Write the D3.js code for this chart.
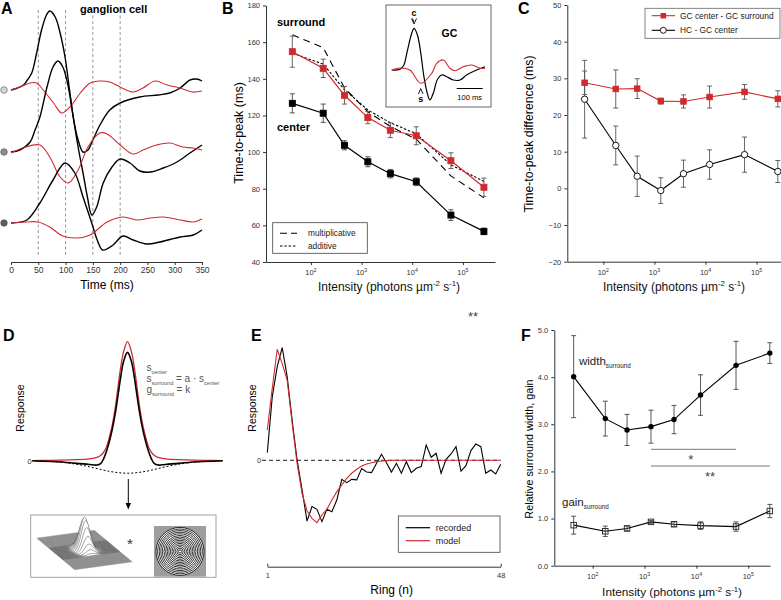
<!DOCTYPE html>
<html><head><meta charset="utf-8">
<script src="https://cdn.jsdelivr.net/npm/d3@7"></script>
<style>body{margin:0;background:#fff} svg{display:block} text{font-family:"Liberation Sans",Arial,sans-serif}</style>
</head><body><svg id="chart" width="781" height="600"></svg>
<script>
// ---------------- DATA ----------------
// Panel A: ganglion cell traces (time ms, response a.u.)
const timeTicksA = [0,50,100,150,200,250,300,350];
const dashedTimesA = [50,100,150,200];
const a1Black = [[0,0],[12,2],[23,5],[30,10],[38,17],[47,37],[56,60],[65,75],[71,79],[81,73],[90,57],[99,33],[108,-3],[115,-30],[122,-48],[132,-62],[141,-60],[150,-50],[163,-35],[181,-20],[200,-13],[236,-7],[270,-5],[291,-3],[310,2],[328,10],[340,11],[350,9]];
const a1Red = [[0,0],[17,3],[35,7],[47,7],[59,0],[78,-13],[93,-23],[108,-17],[127,-3],[145,7],[163,9],[181,8],[200,3],[224,-2],[242,2],[264,9],[286,5],[310,2],[332,-2],[350,-1]];
const a2Black = [[0,0],[16,2],[35,10],[44,22],[53,35],[66,65],[77,85],[86,91],[95,85],[105,65],[114,35],[123,5],[132,-21],[140,-45],[148,-63],[157,-55],[169,-31],[185,-15],[200,-7],[218,-11],[236,-19],[255,-20],[279,-16],[304,-10],[328,-1],[350,7]];
const a2Red = [[0,-1],[22,4],[53,7],[71,-5],[90,-25],[105,-31],[123,-18],[141,5],[163,19],[176,18],[200,7],[224,-2],[242,2],[267,7],[291,9],[315,5],[334,4],[350,2]];
const a3Black = [[0,0],[29,3],[53,20],[77,43],[99,60],[117,50],[132,26],[148,0],[158,-17],[168,-27],[187,-22],[205,-13],[224,-17],[249,-21],[273,-19],[310,-14],[334,-12],[350,-7]];
const a3Red = [[0,0],[29,1],[50,1],[71,-4],[95,-13],[121,-15],[145,-12],[176,1],[205,6],[231,3],[255,5],[279,6],[310,3],[334,1],[350,4]];

// Panels B, C, F: intensities (photons um^-2 s^-1)
const intensity = [43, 175, 460, 1330, 3700, 12000, 58000, 260000];
const logTicks = [1e2, 1e3, 1e4, 1e5];
const bYTicks = [40,60,80,100,120,140,160,180];
const bCenter = [126.6, 121.2, 103.7, 94.7, 88.2, 83.8, 65.6, 56.7];
const bCenterErr = [5.2, 5.0, 2.5, 2.7, 2.3, 2.1, 2.9, 1.8];
const bSurround = [154.8, 145.7, 131.0, 118.8, 111.9, 108.9, 95.3, 80.8];
const bSurroundErr = [8.5, 5.0, 4.8, 3.3, 4.0, 4.9, 4.3, 5.0];
const bMultiplicative = [164, 157, 135, 122, 114, 107, 87, 75];
const bAdditive = [154, 148, 134, 123, 116, 110, 93, 84];
// B inset (time ms, a.u.)
const insetBlack = [[0,0],[32,0.7],[47,5],[58,16.7],[77,36.7],[86,41.7],[99,35],[112,16.7],[124,-6.7],[137,-23.3],[147,-30],[160,-23.3],[175,-10],[192,-5],[212,-6.7],[237,-10],[263,-10],[288,-5],[320,-0.7],[359,3.3]];
const insetRed = [[0,0],[32,2],[70,0],[112,-13.3],[154,-3.3],[173,6.7],[199,10],[224,1.7],[243,-0.7],[275,3.3],[308,5],[340,1.7],[359,1.7]];

const cYTicks = [-20,-10,0,10,20,30,40,50];
const cCenterSurround = [28.8, 27.1, 27.2, 23.8, 23.7, 24.9, 26.3, 24.4];
const cCenterSurroundErr = [3.2, 5.2, 2.7, 0.8, 1.8, 3.0, 2.0, 2.2];
const cHcCenter = [24.3, 11.7, 3.3, -0.6, 4.0, 6.5, 9.2, 4.6];
const cHcCenterErr = [10.6, 5.3, 5.5, 3.5, 3.7, 4.0, 4.8, 3.0];

// Panel D: half profiles (offset from centre, response)
const dBlackHalf = [[0,1.0],[2,0.92],[3.5,0.78],[5,0.6],[6.5,0.43],[8,0.29],[9.5,0.18],[11,0.09],[12.5,0.02],[14,-0.025],[16,-0.04],[20,-0.035],[25,-0.027],[30,-0.019],[40,-0.008],[50,0]];
const dRedHalf = [[0,1.10],[2,1.01],[3.5,0.87],[5,0.68],[6.5,0.48],[8,0.33],[9.5,0.22],[11,0.13],[12.5,0.08],[14,0.05],[16,0.03],[20,0.016],[30,0.008],[40,0.003],[50,0]];
const dSurroundHalf = [[0,-0.116],[5,-0.11],[10,-0.097],[15,-0.077],[20,-0.056],[25,-0.038],[30,-0.024],[35,-0.014],[40,-0.007],[45,-0.003],[50,0]];

// Panel E: ring responses (ring 1..48)
const eRecorded = [0.068,0.565,0.831,1.0,0.743,0.358,0.003,-0.263,-0.539,-0.411,-0.435,-0.544,-0.435,-0.456,-0.352,-0.169,-0.198,-0.169,-0.174,-0.074,-0.104,-0.109,-0.027,0.053,-0.021,-0.104,-0.027,-0.115,-0.012,-0.109,-0.071,-0.056,0.136,0.027,0.062,-0.115,0.009,0.056,0.121,-0.095,-0.047,0.086,0.145,0.121,-0.115,-0.086,-0.121,-0.036];
const eModel = [0.269,0.639,0.985,0.858,0.712,0.331,-0.027,-0.293,-0.447,-0.515,-0.553,-0.485,-0.435,-0.352,-0.278,-0.219,-0.16,-0.115,-0.08,-0.05,-0.033,-0.021,-0.012,-0.006,-0.003,-0.001,0,0,0,0,0,0,0,0,0,0,0,0,0,0,0,0,0,0,0,0,0,0];
const eRingTicks = [1,48];

const fYTicks = [0,1,2,3,4,5];
const fWidth = [4.01, 3.12, 2.88, 2.95, 3.10, 3.62, 4.25, 4.51];
const fWidthErr = [0.87, 0.37, 0.33, 0.35, 0.30, 0.43, 0.51, 0.22];
const fGain = [0.86, 0.73, 0.79, 0.93, 0.88, 0.85, 0.83, 1.16];
const fGainErr = [0.19, 0.11, 0.05, 0.03, 0.05, 0.08, 0.10, 0.14];

// ---------------- HELPERS ----------------
const RED = "#d02a2e", AX = "#333", TK = "#333";
const svg = d3.select("#chart");
svg.append("rect").attr("width",781).attr("height",600).attr("fill","#fff");

function rich(parent, x, y, parts, fs, o = {}) {
  const t = parent.append("text").attr("x", x).attr("y", y).attr("font-size", fs);
  if (o.anchor) t.attr("text-anchor", o.anchor);
  t.attr("fill", o.fill || "#111");
  if (o.weight) t.attr("font-weight", o.weight);
  if (o.transform) t.attr("transform", o.transform);
  let off = 0;
  parts.forEach(p => {
    if (typeof p === "string") p = {t: p};
    const target = p.sup ? -fs * 0.38 : p.sub ? fs * 0.3 : 0;
    const ts = t.append("tspan").text(p.t).attr("dy", target - off);
    if (p.sup || p.sub) ts.attr("font-size", fs * (p.scale || 0.62));
    off = target;
  });
  return t;
}
function letter(x, y, s) {
  svg.append("text").attr("x", x).attr("y", y).attr("font-size", 16).attr("font-weight", "bold").attr("fill", "#000").text(s);
}
function styleAxis(g) {
  g.selectAll("path.domain").attr("stroke", AX).attr("stroke-width", 1);
  g.selectAll(".tick line").attr("stroke", AX);
  g.selectAll(".tick text").attr("fill", TK).attr("font-family", '"Liberation Sans",Arial,sans-serif');
}
function logAxis(scale, y, fs) {
  const g = svg.append("g").attr("transform", `translate(0,${y})`)
    .call(d3.axisBottom(scale).tickValues(logTicks).tickSize(3).tickSizeOuter(0).tickFormat(""));
  styleAxis(g);
  logTicks.forEach(v => {
    rich(svg, scale(v), y + 13, ["10", {t: String(Math.round(Math.log10(v))), sup: true, scale: 0.7}], fs, {anchor: "middle", fill: TK});
  });
}
function intensityLabel(cx, y, fs) {
  rich(svg, cx, y, ["Intensity (photons µm", {t: "-2", sup: true, scale: 0.65}, " s", {t: "-1", sup: true, scale: 0.65}, ")"], fs, {anchor: "middle"});
}
function errBars(xs, ys, vals, errs, color) {
  vals.forEach((v, i) => {
    const x = xs(intensity[i]);
    const g = svg.append("g").attr("stroke", color).attr("stroke-width", 0.9);
    g.append("line").attr("x1", x).attr("x2", x).attr("y1", ys(v - errs[i])).attr("y2", ys(v + errs[i]));
    [v - errs[i], v + errs[i]].forEach(e => g.append("line").attr("x1", x - 2.5).attr("x2", x + 2.5).attr("y1", ys(e)).attr("y2", ys(e)));
  });
}
function seriesLine(xs, ys, vals, color, w, dash) {
  const p = svg.append("path").datum(vals)
    .attr("d", d3.line().x((d, i) => xs(intensity[i])).y(d => ys(d)))
    .attr("fill", "none").attr("stroke", color).attr("stroke-width", w);
  if (dash) p.attr("stroke-dasharray", dash);
}
function squares(xs, ys, vals, color, size, fill) {
  vals.forEach((v, i) => svg.append("rect").attr("x", xs(intensity[i]) - size / 2).attr("y", ys(v) - size / 2)
    .attr("width", size).attr("height", size).attr("fill", fill).attr("stroke", color).attr("stroke-width", 0.9));
}
const smooth = d3.curveCatmullRom.alpha(0.5);

// ---------------- PANEL A ----------------
letter(1, 14, "A");
svg.append("text").attr("x", 80).attr("y", 13).attr("font-size", 11).attr("font-weight", "bold").text("ganglion cell");
const xA = d3.scaleLinear().domain([0, 350]).range([11, 202]);
dashedTimesA.forEach(t => svg.append("line").attr("x1", xA(t)).attr("x2", xA(t)).attr("y1", 10).attr("y2", 257)
  .attr("stroke", "#8a8a8a").attr("stroke-width", 0.9).attr("stroke-dasharray", "3,2.5"));
const aBases = [90, 152, 223];
const aTraces = [[a1Black, a1Red], [a2Black, a2Red], [a3Black, a3Red]];
const aCircleFill = ["#d4d4d4", "#8c8c8c", "#5c5c5c"];
aTraces.forEach((pair, k) => {
  const yA = d3.scaleLinear().domain([0, 100]).range([aBases[k], aBases[k] - 100]);
  const ln = d3.line().x(d => xA(d[0])).y(d => yA(d[1])).curve(smooth);
  svg.append("path").datum(pair[0]).attr("d", ln).attr("fill", "none").attr("stroke", "#000").attr("stroke-width", 1.4);
  svg.append("path").datum(pair[1]).attr("d", ln).attr("fill", "none").attr("stroke", RED).attr("stroke-width", 1.1);
  svg.append("circle").attr("cx", 4).attr("cy", aBases[k]).attr("r", 3.3).attr("fill", aCircleFill[k]).attr("stroke", "#555").attr("stroke-width", 0.6);
});
{
  const g = svg.append("g").attr("transform", "translate(0,262)")
    .call(d3.axisBottom(xA).tickValues(timeTicksA).tickSize(3).tickSizeOuter(0).tickPadding(2));
  styleAxis(g); g.selectAll(".tick text").attr("font-size", 8.5);
  svg.append("text").attr("x", 107).attr("y", 289).attr("text-anchor", "middle").attr("font-size", 12).text("Time (ms)");
}

// ---------------- PANEL B ----------------
letter(222, 14, "B");
const xB = d3.scaleLog().domain([13, 430000]).range([266, 495]);
const yB = d3.scaleLinear().domain([40, 180]).range([262, 5.5]);
{
  const g = svg.append("g").attr("transform", "translate(266,0)")
    .call(d3.axisLeft(yB).tickValues(bYTicks).tickSize(3).tickSizeOuter(0).tickPadding(3));
  styleAxis(g); g.selectAll(".tick text").attr("font-size", 7.5);
  logAxis(xB, 262, 7.5);
  svg.append("text").attr("transform", "translate(243,133) rotate(-90)").attr("text-anchor", "middle").attr("font-size", 12.5).text("Time-to-peak (ms)");
  intensityLabel(389, 291, 12);
}
seriesLine(xB, yB, bMultiplicative, "#000", 1.1, "7,5");
seriesLine(xB, yB, bAdditive, "#000", 1.1, "2.5,1.8");
seriesLine(xB, yB, bCenter, "#000", 1.2);
errBars(xB, yB, bCenter, bCenterErr, "#444");
squares(xB, yB, bCenter, "#000", 6, "#000");
seriesLine(xB, yB, bSurround, RED, 1.2);
errBars(xB, yB, bSurround, bSurroundErr, "#555");
squares(xB, yB, bSurround, RED, 6, RED);
svg.append("text").attr("x", 277).attr("y", 25.5).attr("font-size", 11).attr("font-weight", "bold").text("surround");
svg.append("text").attr("x", 277).attr("y", 130.5).attr("font-size", 11).attr("font-weight", "bold").text("center");
// legend
svg.append("rect").attr("x", 272.7).attr("y", 222.7).attr("width", 94.6).attr("height", 30.6).attr("fill", "#fff").attr("stroke", "#444").attr("stroke-width", 0.8);
svg.append("line").attr("x1", 280).attr("x2", 297).attr("y1", 233.3).attr("y2", 233.3).attr("stroke", "#000").attr("stroke-width", 1.1).attr("stroke-dasharray", "7,4");
svg.append("line").attr("x1", 280).attr("x2", 297).attr("y1", 246).attr("y2", 246).attr("stroke", "#000").attr("stroke-width", 1.1).attr("stroke-dasharray", "2.5,1.8");
svg.append("text").attr("x", 308).attr("y", 236.3).attr("font-size", 8.3).attr("fill", "#222").text("multiplicative");
svg.append("text").attr("x", 308).attr("y", 249).attr("font-size", 8.3).attr("fill", "#222").text("additive");
// inset
svg.append("rect").attr("x", 386).attr("y", 5).attr("width", 105).attr("height", 102).attr("fill", "#fff").attr("stroke", "#555").attr("stroke-width", 0.9);
{
  const xI = d3.scaleLinear().domain([0, 359]).range([391.7, 485]);
  const yI = d3.scaleLinear().domain([0, 10]).range([70, 60]);
  const ln = d3.line().x(d => xI(d[0])).y(d => yI(d[1])).curve(smooth);
  svg.append("path").datum(insetBlack).attr("d", ln).attr("fill", "none").attr("stroke", "#000").attr("stroke-width", 1.2);
  svg.append("path").datum(insetRed).attr("d", ln).attr("fill", "none").attr("stroke", RED).attr("stroke-width", 1.1);
  svg.append("text").attr("x", 414).attr("y", 16).attr("text-anchor", "middle").attr("font-size", 9).attr("font-weight", "bold").text("c");
  svg.append("path").attr("d", "M411.5,18.5 L414,24 L416.5,18.5 M412.5,18.5 L414,22").attr("fill", "none").attr("stroke", "#000").attr("stroke-width", 0.9);
  svg.append("path").attr("d", "M418.5,94 L420.7,88.5 L423,94").attr("fill", "none").attr("stroke", "#000").attr("stroke-width", 0.9);
  svg.append("text").attr("x", 420.7).attr("y", 102).attr("text-anchor", "middle").attr("font-size", 9).attr("font-weight", "bold").text("s");
  svg.append("text").attr("x", 441.5).attr("y", 37).attr("font-size", 10.5).attr("font-weight", "bold").text("GC");
  svg.append("line").attr("x1", xI(250)).attr("x2", xI(350)).attr("y1", 88.5).attr("y2", 88.5).attr("stroke", "#000").attr("stroke-width", 1);
  svg.append("text").attr("x", (xI(250) + xI(350)) / 2).attr("y", 99.5).attr("text-anchor", "middle").attr("font-size", 7.5).text("100 ms");
}

// ---------------- PANEL C ----------------
letter(518, 14, "C");
const xC = d3.scaleLog().domain([19.7, 300000]).range([567.3, 781]);
const yC = d3.scaleLinear().domain([-20, 50]).range([261.7, 5]);
{
  const g = svg.append("g").attr("transform", "translate(567.3,0)")
    .call(d3.axisLeft(yC).tickValues(cYTicks).tickSize(3).tickSizeOuter(0).tickPadding(3));
  styleAxis(g); g.selectAll(".tick text").attr("font-size", 7.5);
  logAxis(xC, 261.7, 7.5);
  svg.append("text").attr("transform", "translate(533,134) rotate(-90)").attr("text-anchor", "middle").attr("font-size", 12.3).text("Time-to-peak difference (ms)");
  intensityLabel(674, 291, 12);
}
seriesLine(xC, yC, cHcCenter, "#000", 1.1);
errBars(xC, yC, cHcCenter, cHcCenterErr, "#555");
cHcCenter.forEach((v, i) => svg.append("circle").attr("cx", xC(intensity[i])).attr("cy", yC(v)).attr("r", 3.2).attr("fill", "#fff").attr("stroke", "#000").attr("stroke-width", 0.9));
seriesLine(xC, yC, cCenterSurround, RED, 1.1);
errBars(xC, yC, cCenterSurround, cCenterSurroundErr, "#555");
squares(xC, yC, cCenterSurround, RED, 5.5, RED);
svg.append("rect").attr("x", 645).attr("y", 8.3).attr("width", 135).attr("height", 30).attr("fill", "#fff").attr("stroke", "#666").attr("stroke-width", 0.8);
svg.append("line").attr("x1", 651.7).attr("x2", 675).attr("y1", 15.7).attr("y2", 15.7).attr("stroke", RED).attr("stroke-width", 1.1);
svg.append("rect").attr("x", 660.6).attr("y", 13).attr("width", 5.5).attr("height", 5.5).attr("fill", RED);
svg.append("line").attr("x1", 651.7).attr("x2", 675).attr("y1", 30.3).attr("y2", 30.3).attr("stroke", "#000").attr("stroke-width", 1.1);
svg.append("circle").attr("cx", 663.3).attr("cy", 30.3).attr("r", 3).attr("fill", "#fff").attr("stroke", "#000").attr("stroke-width", 0.9);
svg.append("text").attr("x", 680).attr("y", 18.8).attr("font-size", 8.4).attr("fill", "#222").text("GC center - GC surround");
svg.append("text").attr("x", 680).attr("y", 33.4).attr("font-size", 8.4).attr("fill", "#222").text("HC - GC center");

// ---------------- PANEL D ----------------
letter(3, 341, "D");
{
  const xD = d3.scaleLinear().domain([0, 100]).range([32.3, 222.7]);
  const yD = d3.scaleLinear().domain([0, 1]).range([460.7, 352.4]);
  const mirror = h => h.slice().reverse().map(d => [50 - d[0], d[1]]).concat(h.slice(1).map(d => [50 + d[0], d[1]]));
  const ln = d3.line().x(d => xD(d[0])).y(d => yD(d[1])).curve(smooth);
  svg.append("path").datum(mirror(dSurroundHalf)).attr("d", ln).attr("fill", "none").attr("stroke", "#000").attr("stroke-width", 1).attr("stroke-dasharray", "2,2");
  svg.append("path").datum(mirror(dRedHalf)).attr("d", ln).attr("fill", "none").attr("stroke", RED).attr("stroke-width", 1.3);
  svg.append("path").datum(mirror(dBlackHalf)).attr("d", ln).attr("fill", "none").attr("stroke", "#000").attr("stroke-width", 1.6);
  svg.append("text").attr("x", 29.5).attr("y", 463.5).attr("text-anchor", "middle").attr("font-size", 7.5).attr("fill", TK).text("0");
  svg.append("text").attr("transform", "translate(24,408) rotate(-90)").attr("text-anchor", "middle").attr("font-size", 10.5).text("Response");
  const grey = "#555";
  rich(svg, 146.5, 371, ["s", {t: "center", sub: true, scale: 0.55}], 10, {fill: grey});
  rich(svg, 146.5, 382, ["s", {t: "surround", sub: true, scale: 0.55}, " = a · s", {t: "center", sub: true, scale: 0.55}], 10, {fill: grey});
  rich(svg, 146.5, 392.5, ["g", {t: "surround", sub: true, scale: 0.55}, " = k"], 10, {fill: grey});
  // arrow
  svg.append("line").attr("x1", 128.3).attr("x2", 128.3).attr("y1", 479).attr("y2", 505).attr("stroke", "#000").attr("stroke-width", 1);
  svg.append("path").attr("d", "M125.6,503 L128.3,509.5 L131,503 Z").attr("fill", "#000");
  // inset box
  svg.append("rect").attr("x", 30.7).attr("y", 515).attr("width", 185.3).attr("height", 62.3).attr("fill", "#fff").attr("stroke", "#999").attr("stroke-width", 0.9);
  // 3D surface illustration
  const C = [84.5, 550], a = [47.8, 11.85], b = [10, -19.65], H = 33, sig = 0.15;
  const P = (p, q, h) => [C[0] + ((p + q) / 2) * a[0] + ((p - q) / 2) * b[0], C[1] + ((p + q) / 2) * a[1] + ((p - q) / 2) * b[1] - h * H];
  const gS = svg.append("g");
  gS.append("path").attr("d", d3.line()([P(-1, -1, 0), P(1, -1, 0), P(1, 1, 0), P(-1, 1, 0)]) + "Z").attr("fill", "#9d9d9d");
  const N = 34, M = 60;
  for (let i = 0; i <= N; i++) {
    const q = -1 + 2 * i / N;
    const top = [], base = [];
    let hmax = 0;
    for (let j = 0; j <= M; j++) {
      const p = -1 + 2 * j / M;
      const h = Math.exp(-((p * p + q * q) / (2 * sig * sig)));
      hmax = Math.max(hmax, h);
      top.push(P(p, q, h)); base.push(P(p, q, 0));
    }
    if (hmax > 0.03) gS.append("path").attr("d", d3.line()(top.concat(base.reverse())) + "Z").attr("fill", "#fff").attr("stroke", "none");
    gS.append("path").attr("d", d3.line()(top)).attr("fill", "none").attr("stroke", hmax > 0.03 ? "#333" : "#7c7c7c").attr("stroke-width", 0.45);
  }
  svg.append("text").attr("x", 130).attr("y", 549).attr("text-anchor", "middle").attr("font-size", 15).attr("fill", "#333").text("*");
  // ring stimulus
  svg.append("rect").attr("x", 154).attr("y", 526).attr("width", 52).attr("height", 50.7).attr("fill", "#9d9d9d");
  svg.append("circle").attr("cx", 180).attr("cy", 551.4).attr("r", 24).attr("fill", "#fff");
  for (let r = 24; r > 0.5; r -= 1.6) svg.append("circle").attr("cx", 180).attr("cy", 551.4).attr("r", r).attr("fill", "none").attr("stroke", "#000").attr("stroke-width", 0.8);
}

// ---------------- PANEL E ----------------
letter(251, 341, "E");
{
  const xE = d3.scaleLinear().domain([1, 48]).range([267.3, 500.7]);
  const yE = d3.scaleLinear().domain([0, 1]).range([460.3, 347.6]);
  svg.append("line").attr("x1", 262).attr("x2", 500.7).attr("y1", yE(0)).attr("y2", yE(0)).attr("stroke", "#000").attr("stroke-width", 0.9).attr("stroke-dasharray", "4,3");
  const ln = d3.line().x((d, i) => xE(i + 1)).y(d => yE(d));
  svg.append("path").datum(eRecorded).attr("d", ln).attr("fill", "none").attr("stroke", "#000").attr("stroke-width", 1.1);
  svg.append("path").datum(eModel).attr("d", ln).attr("fill", "none").attr("stroke", RED).attr("stroke-width", 1.1);
  const g = svg.append("g").attr("transform", "translate(0,566.7)")
    .call(d3.axisBottom(xE).tickValues(eRingTicks).tickSize(-3).tickSizeOuter(0).tickPadding(6));
  styleAxis(g); g.selectAll(".tick text").attr("font-size", 7.5);
  svg.append("text").attr("x", 259).attr("y", 463).attr("text-anchor", "middle").attr("font-size", 7.5).attr("fill", TK).text("0");
  svg.append("text").attr("transform", "translate(256,408) rotate(-90)").attr("text-anchor", "middle").attr("font-size", 10.5).text("Response");
  svg.append("text").attr("x", 391.7).attr("y", 594).attr("text-anchor", "middle").attr("font-size", 12).text("Ring (n)");
  svg.append("text").attr("x", 473).attr("y", 321).attr("text-anchor", "middle").attr("font-size", 13).attr("fill", "#444").text("**");
  svg.append("rect").attr("x", 398.3).attr("y", 516).attr("width", 101.7).attr("height", 36.3).attr("fill", "#fff").attr("stroke", "#444").attr("stroke-width", 0.8);
  svg.append("line").attr("x1", 405.7).attr("x2", 430).attr("y1", 527.7).attr("y2", 527.7).attr("stroke", "#000").attr("stroke-width", 1.2);
  svg.append("line").attr("x1", 405.7).attr("x2", 430).attr("y1", 540.7).attr("y2", 540.7).attr("stroke", RED).attr("stroke-width", 1.2);
  svg.append("text").attr("x", 435.7).attr("y", 531).attr("font-size", 9).attr("fill", "#222").text("recorded");
  svg.append("text").attr("x", 435.7).attr("y", 544).attr("font-size", 9).attr("fill", "#222").text("model");
}

// ---------------- PANEL F ----------------
letter(521, 341, "F");
const xF = d3.scaleLog().domain([18.2, 262000]).range([554.3, 770]);
const yF = d3.scaleLinear().domain([0, 5]).range([565.7, 330]);
{
  const g = svg.append("g").attr("transform", "translate(554.3,0)")
    .call(d3.axisLeft(yF).tickValues(fYTicks).tickSize(3).tickSizeOuter(0).tickPadding(3));
  styleAxis(g); g.selectAll(".tick text").attr("font-size", 7.5);
  logAxis(xF, 565.7, 7.5);
  svg.append("text").attr("transform", "translate(533,449) rotate(-90)").attr("text-anchor", "middle").attr("font-size", 10.8).text("Relative surround width, gain");
  intensityLabel(672, 596, 11.8);
}
seriesLine(xF, yF, fWidth, "#000", 1.1);
errBars(xF, yF, fWidth, fWidthErr, "#444");
fWidth.forEach((v, i) => svg.append("circle").attr("cx", xF(intensity[i])).attr("cy", yF(v)).attr("r", 2.7).attr("fill", "#000"));
seriesLine(xF, yF, fGain, "#000", 1.1);
errBars(xF, yF, fGain, fGainErr, "#444");
squares(xF, yF, fGain, "#222", 5.5, "none");
rich(svg, 579, 365, ["width", {t: "surround", sub: true, scale: 0.55}], 11.5, {fill: "#222"});
rich(svg, 562, 506, ["gain", {t: "surround", sub: true, scale: 0.55}], 11.5, {fill: "#222"});
svg.append("line").attr("x1", xF(intensity[3])).attr("x2", xF(intensity[6])).attr("y1", 449.3).attr("y2", 449.3).attr("stroke", "#777").attr("stroke-width", 1);
svg.append("line").attr("x1", xF(intensity[3])).attr("x2", xF(intensity[7])).attr("y1", 466).attr("y2", 466).attr("stroke", "#777").attr("stroke-width", 1);
svg.append("text").attr("x", 690.7).attr("y", 464).attr("text-anchor", "middle").attr("font-size", 13).attr("fill", "#444").text("*");
svg.append("text").attr("x", 710).attr("y", 481).attr("text-anchor", "middle").attr("font-size", 13).attr("fill", "#444").text("**");
</script></body></html>
